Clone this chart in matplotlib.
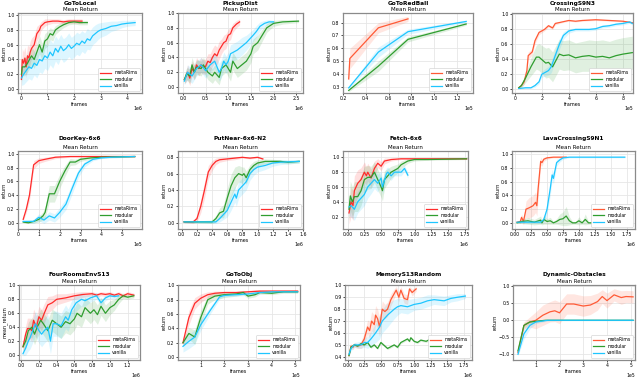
import matplotlib
matplotlib.use("Agg")
import numpy as np
import matplotlib.pyplot as plt
from matplotlib.ticker import MultipleLocator

# ---------------- data (x in units of the axis offset) ----------------
# GoToLocal (1e6)
p1_meta_x = [0.02, 0.05, 0.1, 0.15, 0.2, 0.25, 0.3, 0.35, 0.4, 0.5, 0.6, 0.7, 0.75, 0.9, 1.0, 1.2, 1.4, 1.6, 1.8, 2.0, 2.3]
p1_meta_y = [0.13, 0.4, 0.35, 0.42, 0.3, 0.45, 0.42, 0.5, 0.55, 0.6, 0.75, 0.8, 0.85, 0.9, 0.91, 0.92, 0.92, 0.91, 0.92, 0.92, 0.92]
p1_meta_s = [0.08, 0.15, 0.15, 0.15, 0.15, 0.15, 0.15, 0.15, 0.14, 0.13, 0.1, 0.08, 0.06, 0.05, 0.04, 0.03, 0.03, 0.03, 0.03, 0.03, 0.03]
p1_mod_x = [0.02, 0.05, 0.15, 0.25, 0.35, 0.4, 0.5, 0.6, 0.65, 0.7, 0.8, 0.9, 1.0, 1.1, 1.2, 1.3, 1.45, 1.6, 1.8, 2.0, 2.2, 2.5]
p1_mod_y = [0.2, 0.3, 0.3, 0.35, 0.42, 0.45, 0.4, 0.5, 0.55, 0.6, 0.5, 0.65, 0.68, 0.75, 0.73, 0.8, 0.84, 0.87, 0.9, 0.91, 0.9, 0.9]
p1_mod_s = [0.1, 0.12, 0.12, 0.12, 0.12, 0.12, 0.12, 0.12, 0.12, 0.12, 0.12, 0.1, 0.1, 0.08, 0.08, 0.06, 0.05, 0.04, 0.03, 0.03, 0.03, 0.03]
p1_van_x = [0.02, 0.1, 0.2, 0.3, 0.4, 0.5, 0.6, 0.7, 0.8, 0.9, 1.0, 1.1, 1.2, 1.3, 1.4, 1.5, 1.6, 1.7, 1.8, 1.9, 2.0, 2.1, 2.2, 2.3, 2.4, 2.5, 2.6, 2.7, 2.8, 2.9, 3.0, 3.2, 3.4, 3.6, 3.8, 4.0, 4.3]
p1_van_y = [0.15, 0.2, 0.25, 0.3, 0.28, 0.35, 0.32, 0.4, 0.38, 0.45, 0.42, 0.5, 0.45, 0.55, 0.5, 0.58, 0.52, 0.55, 0.6, 0.55, 0.58, 0.62, 0.6, 0.65, 0.62, 0.68, 0.66, 0.72, 0.75, 0.78, 0.8, 0.82, 0.85, 0.86, 0.88, 0.89, 0.9]
p1_van_s = [0.1, 0.14, 0.15, 0.16, 0.16, 0.16, 0.17, 0.17, 0.17, 0.17, 0.17, 0.17, 0.17, 0.17, 0.17, 0.16, 0.16, 0.16, 0.16, 0.15, 0.15, 0.15, 0.15, 0.14, 0.14, 0.14, 0.13, 0.12, 0.12, 0.11, 0.1, 0.09, 0.07, 0.06, 0.05, 0.04, 0.04]

# PickupDist (1e6)
p2_meta_x = [0.03, 0.07, 0.1, 0.15, 0.2, 0.25, 0.3, 0.35, 0.4, 0.45, 0.5, 0.55, 0.6, 0.65, 0.7, 0.75, 0.8, 0.85, 0.9, 0.95, 1.0, 1.05, 1.1, 1.18, 1.25]
p2_meta_y = [0.1, 0.15, 0.2, 0.12, 0.25, 0.2, 0.3, 0.25, 0.3, 0.27, 0.28, 0.35, 0.33, 0.4, 0.45, 0.42, 0.5, 0.55, 0.6, 0.62, 0.7, 0.72, 0.8, 0.85, 0.88]
p2_meta_s = [0.05, 0.08, 0.1, 0.1, 0.1, 0.1, 0.1, 0.1, 0.1, 0.1, 0.1, 0.1, 0.12, 0.12, 0.12, 0.12, 0.12, 0.1, 0.1, 0.1, 0.08, 0.08, 0.06, 0.05, 0.04]
p2_mod_x = [0.03, 0.08, 0.15, 0.2, 0.25, 0.3, 0.4, 0.45, 0.55, 0.65, 0.7, 0.8, 0.85, 0.95, 1.05, 1.1, 1.2, 1.3, 1.4, 1.5, 1.55, 1.65, 1.75, 1.85, 2.0, 2.2, 2.55]
p2_mod_y = [0.1, 0.18, 0.15, 0.3, 0.2, 0.27, 0.25, 0.3, 0.2, 0.15, 0.2, 0.13, 0.25, 0.3, 0.2, 0.35, 0.25, 0.3, 0.35, 0.45, 0.55, 0.6, 0.7, 0.8, 0.86, 0.88, 0.89]
p2_mod_s = [0.05, 0.08, 0.1, 0.1, 0.1, 0.1, 0.1, 0.1, 0.1, 0.1, 0.1, 0.1, 0.1, 0.1, 0.12, 0.12, 0.12, 0.12, 0.12, 0.12, 0.1, 0.1, 0.08, 0.06, 0.04, 0.03, 0.02]
p2_van_x = [0.03, 0.1, 0.2, 0.3, 0.4, 0.5, 0.6, 0.7, 0.8, 0.85, 0.9, 0.95, 1.0, 1.05, 1.2, 1.3, 1.4, 1.55, 1.62, 1.7, 1.8, 1.9, 2.0]
p2_van_y = [0.08, 0.2, 0.15, 0.25, 0.3, 0.22, 0.3, 0.35, 0.2, 0.25, 0.35, 0.3, 0.35, 0.45, 0.5, 0.55, 0.6, 0.7, 0.75, 0.82, 0.86, 0.88, 0.88]
p2_van_s = [0.05, 0.1, 0.1, 0.1, 0.1, 0.1, 0.1, 0.1, 0.12, 0.12, 0.12, 0.12, 0.12, 0.12, 0.12, 0.12, 0.1, 0.08, 0.08, 0.06, 0.04, 0.03, 0.02]

# GoToRedBall (1e5)
p3_meta_x = [0.25, 0.26, 0.51, 0.77]
p3_meta_y = [0.36, 0.52, 0.76, 0.83]
p3_meta_s = [0.02, 0.08, 0.04, 0.02]
p3_mod_x = [0.25, 0.51, 0.77, 1.28]
p3_mod_y = [0.27, 0.46, 0.67, 0.79]
p3_mod_s = [0.01, 0.04, 0.02, 0.01]
p3_van_x = [0.25, 0.51, 0.77, 1.28]
p3_van_y = [0.29, 0.57, 0.73, 0.81]
p3_van_s = [0.01, 0.04, 0.02, 0.01]

# CrossingS9N3 (1e5)
p4_meta_x = [0.3, 0.5, 0.7, 0.9, 1.0, 1.3, 1.5, 1.8, 2.2, 2.5, 2.8, 3.0, 3.5, 4.0, 4.5, 5.0, 6.0, 7.0, 8.0, 8.7]
p4_meta_y = [0.02, 0.05, 0.1, 0.25, 0.45, 0.5, 0.65, 0.76, 0.8, 0.85, 0.82, 0.88, 0.9, 0.92, 0.91, 0.92, 0.93, 0.92, 0.91, 0.89]
p4_meta_s = [0.01, 0.02, 0.03, 0.04, 0.05, 0.04, 0.04, 0.03, 0.02, 0.02, 0.02, 0.02, 0.01, 0.01, 0.01, 0.01, 0.01, 0.01, 0.01, 0.01]
p4_mod_x = [0.3, 0.5, 0.8, 1.2, 1.6, 1.8, 2.3, 2.5, 2.8, 3.3, 3.6, 4.0, 4.5, 5.0, 5.5, 6.0, 6.5, 7.0, 7.5, 8.0, 8.7]
p4_mod_y = [0.02, 0.05, 0.15, 0.3, 0.43, 0.43, 0.35, 0.36, 0.3, 0.47, 0.45, 0.46, 0.42, 0.44, 0.45, 0.43, 0.44, 0.42, 0.45, 0.47, 0.49]
p4_mod_s = [0.01, 0.03, 0.06, 0.12, 0.16, 0.18, 0.2, 0.2, 0.2, 0.2, 0.2, 0.2, 0.2, 0.2, 0.21, 0.22, 0.22, 0.22, 0.22, 0.22, 0.22]
p4_van_x = [0.3, 0.8, 1.2, 1.5, 1.8, 2.0, 2.5, 2.7, 3.0, 3.3, 3.6, 4.0, 4.5, 5.5, 6.0, 6.5, 7.0, 7.5, 8.0, 8.5, 8.7]
p4_van_y = [0.01, 0.02, 0.02, 0.05, 0.1, 0.2, 0.25, 0.3, 0.45, 0.6, 0.72, 0.78, 0.8, 0.8, 0.81, 0.84, 0.85, 0.87, 0.88, 0.9, 0.88]
p4_van_s = [0.01, 0.01, 0.01, 0.02, 0.03, 0.04, 0.06, 0.08, 0.08, 0.07, 0.05, 0.03, 0.02, 0.02, 0.02, 0.02, 0.02, 0.02, 0.02, 0.02, 0.02]

# DoorKey-6x6 (1e5)
p5_meta_x = [0.25, 0.4, 0.55, 0.75, 1.0, 1.3, 1.8, 2.5, 3.5, 4.5, 5.6]
p5_meta_y = [0.05, 0.2, 0.4, 0.84, 0.9, 0.92, 0.95, 0.96, 0.96, 0.96, 0.96]
p5_meta_s = [0.02, 0.05, 0.08, 0.06, 0.04, 0.03, 0.02, 0.01, 0.01, 0.01, 0.01]
p5_mod_x = [0.25, 0.5, 0.75, 1.0, 1.2, 1.3, 1.5, 1.75, 2.0, 2.25, 2.5, 2.75, 3.0, 3.5, 4.0, 5.6]
p5_mod_y = [0.01, 0.0, 0.02, 0.05, 0.1, 0.15, 0.42, 0.42, 0.6, 0.75, 0.88, 0.88, 0.92, 0.94, 0.95, 0.96]
p5_mod_s = [0.01, 0.01, 0.02, 0.04, 0.06, 0.08, 0.12, 0.12, 0.1, 0.08, 0.05, 0.04, 0.03, 0.02, 0.01, 0.01]
p5_van_x = [0.25, 0.75, 1.0, 1.25, 1.5, 1.75, 2.0, 2.3, 2.6, 2.9, 3.2, 3.6, 4.0, 4.5, 5.6]
p5_van_y = [0.02, 0.02, 0.08, 0.04, 0.1, 0.07, 0.15, 0.27, 0.5, 0.72, 0.85, 0.92, 0.94, 0.95, 0.96]
p5_van_s = [0.01, 0.03, 0.05, 0.05, 0.06, 0.06, 0.07, 0.08, 0.08, 0.06, 0.04, 0.02, 0.01, 0.01, 0.01]

# PutNear-6x6-N2 (1e6)
p6_meta_x = [0.03, 0.15, 0.2, 0.25, 0.3, 0.35, 0.4, 0.45, 0.5, 0.6, 0.7, 0.8, 0.9, 1.0, 1.07]
p6_meta_y = [0.01, 0.01, 0.05, 0.2, 0.4, 0.62, 0.7, 0.75, 0.77, 0.78, 0.79, 0.8, 0.79, 0.8, 0.78]
p6_meta_s = [0.01, 0.02, 0.04, 0.08, 0.1, 0.08, 0.06, 0.04, 0.03, 0.02, 0.02, 0.01, 0.01, 0.01, 0.01]
p6_mod_x = [0.03, 0.4, 0.45, 0.5, 0.55, 0.6, 0.65, 0.7, 0.75, 0.8, 0.82, 0.85, 0.9, 0.95, 1.0, 1.1, 1.3, 1.4, 1.55]
p6_mod_y = [0.01, 0.01, 0.05, 0.12, 0.14, 0.3, 0.45, 0.55, 0.6, 0.58, 0.6, 0.55, 0.65, 0.7, 0.73, 0.75, 0.75, 0.74, 0.75]
p6_mod_s = [0.01, 0.02, 0.04, 0.06, 0.08, 0.12, 0.14, 0.13, 0.1, 0.1, 0.08, 0.08, 0.06, 0.05, 0.04, 0.03, 0.02, 0.02, 0.02]
p6_van_x = [0.03, 0.45, 0.5, 0.55, 0.6, 0.65, 0.7, 0.72, 0.75, 0.8, 0.85, 0.9, 0.95, 1.0, 1.1, 1.2, 1.3, 1.55]
p6_van_y = [0.01, 0.01, 0.05, 0.1, 0.15, 0.25, 0.35, 0.3, 0.4, 0.45, 0.5, 0.6, 0.65, 0.68, 0.7, 0.73, 0.74, 0.75]
p6_van_s = [0.01, 0.02, 0.04, 0.06, 0.08, 0.1, 0.1, 0.1, 0.1, 0.1, 0.1, 0.08, 0.07, 0.06, 0.05, 0.04, 0.03, 0.02]

# Fetch-6x6 (1e6)
p7_meta_x = [0.02, 0.05, 0.08, 0.1, 0.15, 0.2, 0.25, 0.28, 0.3, 0.35, 0.4, 0.45, 0.5, 0.55, 0.65, 0.8, 1.0, 1.3, 1.78]
p7_meta_y = [0.25, 0.4, 0.35, 0.55, 0.65, 0.7, 0.8, 0.75, 0.8, 0.72, 0.85, 0.92, 0.88, 0.95, 0.97, 0.98, 0.98, 0.98, 0.98]
p7_meta_s = [0.15, 0.2, 0.2, 0.2, 0.18, 0.16, 0.14, 0.12, 0.12, 0.12, 0.1, 0.06, 0.06, 0.04, 0.02, 0.01, 0.01, 0.01, 0.01]
p7_mod_x = [0.02, 0.04, 0.07, 0.1, 0.15, 0.2, 0.25, 0.3, 0.35, 0.4, 0.45, 0.5, 0.52, 0.55, 0.6, 0.65, 0.75, 0.8, 0.9, 1.0, 1.2, 1.78]
p7_mod_y = [0.3, 0.48, 0.4, 0.47, 0.47, 0.55, 0.7, 0.73, 0.73, 0.8, 0.7, 0.6, 0.55, 0.7, 0.75, 0.8, 0.85, 0.9, 0.95, 0.97, 0.97, 0.98]
p7_mod_s = [0.15, 0.2, 0.2, 0.2, 0.2, 0.2, 0.18, 0.16, 0.15, 0.14, 0.14, 0.14, 0.14, 0.12, 0.1, 0.08, 0.06, 0.05, 0.03, 0.02, 0.01, 0.01]
p7_van_x = [0.02, 0.05, 0.1, 0.15, 0.2, 0.25, 0.3, 0.35, 0.4, 0.45, 0.5, 0.52, 0.58, 0.6, 0.65, 0.7, 0.8, 0.85, 0.9]
p7_van_y = [0.33, 0.35, 0.3, 0.4, 0.45, 0.5, 0.6, 0.65, 0.7, 0.65, 0.72, 0.6, 0.78, 0.8, 0.75, 0.8, 0.8, 0.85, 0.76]
p7_van_s = [0.12, 0.15, 0.15, 0.15, 0.15, 0.15, 0.15, 0.14, 0.12, 0.12, 0.1, 0.1, 0.08, 0.07, 0.06, 0.05, 0.05, 0.04, 0.04]

# LavaCrossingS9N1 (1e6)
p8_meta_x = [0.03, 0.08, 0.1, 0.13, 0.17, 0.22, 0.28, 0.32, 0.34, 0.36, 0.4, 0.42, 0.45, 0.5, 0.6, 0.8]
p8_meta_y = [0.01, 0.02, 0.08, 0.02, 0.2, 0.22, 0.25, 0.3, 0.25, 0.5, 0.9, 0.88, 0.93, 0.95, 0.96, 0.96]
p8_meta_s = [0.01, 0.03, 0.05, 0.05, 0.12, 0.15, 0.15, 0.15, 0.15, 0.15, 0.06, 0.05, 0.03, 0.02, 0.01, 0.01]
p8_mod_x = [0.03, 0.1, 0.2, 0.3, 0.4, 0.42, 0.45, 0.5, 0.55, 0.6, 0.65, 0.7, 0.75, 0.8, 0.85, 0.9, 0.95, 1.0, 1.05, 1.1, 1.15, 1.25, 1.32, 1.36, 1.4]
p8_mod_y = [0.0, 0.02, 0.03, 0.01, 0.04, 0.0, 0.05, 0.02, 0.03, 0.0, 0.02, 0.05, 0.06, 0.1, 0.03, 0.0, 0.0, 0.03, 0.0, 0.05, 0.0, 0.0, 0.08, 0.02, 0.0]
p8_mod_s = [0.01, 0.03, 0.05, 0.04, 0.06, 0.03, 0.07, 0.04, 0.05, 0.02, 0.04, 0.08, 0.1, 0.14, 0.06, 0.02, 0.02, 0.06, 0.02, 0.08, 0.02, 0.02, 0.12, 0.05, 0.02]
p8_van_x = [0.03, 0.4, 0.45, 0.5, 0.55, 0.58, 0.6, 0.65, 0.7, 0.75, 0.85, 1.2, 1.72]
p8_van_y = [0.01, 0.01, 0.05, 0.2, 0.5, 0.7, 0.65, 0.88, 0.92, 0.95, 0.96, 0.96, 0.96]
p8_van_s = [0.01, 0.02, 0.04, 0.08, 0.1, 0.08, 0.08, 0.05, 0.03, 0.02, 0.01, 0.01, 0.01]

# FourRoomsEnvS13 (1e6)
p9_meta_x = [0.02, 0.05, 0.07, 0.1, 0.12, 0.14, 0.17, 0.2, 0.23, 0.26, 0.3, 0.35, 0.4, 0.5, 0.6, 0.7, 0.8, 0.85, 0.9, 0.95, 1.0, 1.05, 1.1, 1.15, 1.2, 1.27]
p9_meta_y = [0.12, 0.3, 0.38, 0.38, 0.35, 0.5, 0.4, 0.55, 0.5, 0.6, 0.72, 0.75, 0.8, 0.82, 0.85, 0.87, 0.88, 0.86, 0.88, 0.87, 0.88, 0.86, 0.88, 0.85, 0.88, 0.86]
p9_meta_s = [0.06, 0.12, 0.15, 0.15, 0.16, 0.16, 0.16, 0.15, 0.15, 0.14, 0.12, 0.1, 0.08, 0.06, 0.05, 0.04, 0.03, 0.03, 0.03, 0.03, 0.03, 0.03, 0.03, 0.03, 0.03, 0.03]
p9_mod_x = [0.02, 0.05, 0.08, 0.12, 0.15, 0.18, 0.22, 0.25, 0.3, 0.35, 0.4, 0.45, 0.5, 0.55, 0.6, 0.63, 0.68, 0.72, 0.78, 0.82, 0.86, 0.9, 0.95, 1.0, 1.05, 1.1, 1.15, 1.2, 1.27]
p9_mod_y = [0.12, 0.2, 0.35, 0.4, 0.3, 0.4, 0.5, 0.45, 0.35, 0.5, 0.45, 0.4, 0.48, 0.45, 0.52, 0.6, 0.55, 0.68, 0.6, 0.65, 0.58, 0.7, 0.6, 0.68, 0.72, 0.8, 0.85, 0.83, 0.85]
p9_mod_s = [0.06, 0.1, 0.12, 0.14, 0.15, 0.15, 0.16, 0.16, 0.16, 0.16, 0.16, 0.16, 0.16, 0.16, 0.16, 0.16, 0.15, 0.15, 0.15, 0.14, 0.14, 0.13, 0.12, 0.1, 0.08, 0.06, 0.04, 0.03, 0.03]
p9_van_x = [0.02, 0.05, 0.08, 0.1, 0.13, 0.16, 0.2, 0.23, 0.26, 0.3, 0.33, 0.36, 0.4, 0.45, 0.5, 0.53, 0.57, 0.62, 0.68, 0.72, 0.78, 0.85, 0.9, 0.95, 1.0, 1.05, 1.1]
p9_van_y = [0.02, 0.1, 0.2, 0.25, 0.35, 0.45, 0.35, 0.3, 0.35, 0.4, 0.2, 0.45, 0.45, 0.42, 0.55, 0.5, 0.65, 0.75, 0.8, 0.78, 0.82, 0.85, 0.75, 0.82, 0.85, 0.84, 0.85]
p9_van_s = [0.03, 0.1, 0.14, 0.16, 0.17, 0.18, 0.18, 0.18, 0.18, 0.18, 0.18, 0.18, 0.18, 0.18, 0.17, 0.16, 0.14, 0.12, 0.1, 0.08, 0.06, 0.05, 0.05, 0.04, 0.04, 0.03, 0.03]

# GoToObj (1e5)
p10_meta_x = [0.25, 0.5, 0.75, 1.0, 1.3, 1.6, 2.0, 2.5, 3.0, 3.5, 4.0, 4.5, 5.1]
p10_meta_y = [0.2, 0.55, 0.75, 0.82, 0.87, 0.89, 0.9, 0.9, 0.91, 0.92, 0.92, 0.92, 0.92]
p10_meta_s = [0.05, 0.1, 0.08, 0.06, 0.04, 0.03, 0.02, 0.02, 0.02, 0.02, 0.02, 0.02, 0.02]
p10_mod_x = [0.25, 0.5, 0.75, 1.0, 1.3, 1.6, 2.0, 2.5, 2.8, 3.0, 3.3, 3.5, 4.0, 4.5, 5.1]
p10_mod_y = [0.2, 0.33, 0.28, 0.55, 0.8, 0.85, 0.87, 0.88, 0.9, 0.85, 0.87, 0.9, 0.89, 0.91, 0.91]
p10_mod_s = [0.05, 0.08, 0.1, 0.1, 0.06, 0.05, 0.04, 0.03, 0.03, 0.03, 0.03, 0.02, 0.02, 0.02, 0.02]
p10_van_x = [0.25, 0.5, 0.75, 1.0, 1.4, 1.8, 2.0, 2.5, 3.0, 3.5, 4.0, 5.1]
p10_van_y = [0.15, 0.22, 0.28, 0.45, 0.65, 0.84, 0.86, 0.87, 0.88, 0.9, 0.91, 0.91]
p10_van_s = [0.08, 0.1, 0.1, 0.08, 0.05, 0.03, 0.02, 0.02, 0.02, 0.02, 0.01, 0.01]

# MemoryS13Random (1e6)
p11_meta_x = [0.02, 0.05, 0.08, 0.1, 0.15, 0.2, 0.22, 0.25, 0.3, 0.33, 0.36, 0.4, 0.42, 0.45, 0.48, 0.52, 0.56, 0.6, 0.65, 0.7, 0.73, 0.77, 0.8, 0.85, 0.9, 0.93, 0.97, 1.03]
p11_meta_y = [0.41, 0.49, 0.48, 0.5, 0.49, 0.5, 0.52, 0.55, 0.65, 0.62, 0.7, 0.67, 0.75, 0.72, 0.65, 0.8, 0.78, 0.8, 0.88, 0.93, 0.96, 0.9, 0.96, 0.89, 0.88, 0.97, 0.94, 0.97]
p11_meta_s = [0.01, 0.02, 0.02, 0.02, 0.02, 0.03, 0.04, 0.05, 0.06, 0.07, 0.08, 0.08, 0.08, 0.08, 0.08, 0.07, 0.06, 0.06, 0.05, 0.04, 0.03, 0.04, 0.03, 0.04, 0.04, 0.02, 0.03, 0.02]
p11_mod_x = [0.02, 0.05, 0.1, 0.15, 0.2, 0.25, 0.3, 0.35, 0.4, 0.45, 0.5, 0.6, 0.7, 0.75, 0.8, 0.9, 0.93, 0.95, 1.0, 1.05, 1.1, 1.18, 1.25, 1.32, 1.4, 1.48, 1.55, 1.62, 1.7, 1.77]
p11_mod_y = [0.41, 0.48, 0.5, 0.49, 0.51, 0.5, 0.52, 0.48, 0.5, 0.47, 0.52, 0.47, 0.5, 0.48, 0.52, 0.55, 0.53, 0.56, 0.53, 0.52, 0.54, 0.53, 0.55, 0.53, 0.54, 0.53, 0.55, 0.52, 0.54, 0.55]
p11_mod_s = [0.01, 0.01, 0.01, 0.01, 0.01, 0.01, 0.01, 0.01, 0.01, 0.01, 0.01, 0.01, 0.01, 0.01, 0.01, 0.01, 0.01, 0.01, 0.01, 0.01, 0.01, 0.01, 0.01, 0.01, 0.01, 0.01, 0.01, 0.01, 0.01, 0.01]
p11_van_x = [0.02, 0.05, 0.1, 0.2, 0.25, 0.3, 0.35, 0.42, 0.48, 0.52, 0.6, 0.7, 0.75, 0.8, 0.9, 1.0, 1.1, 1.2, 1.3, 1.45, 1.55, 1.65, 1.77]
p11_van_y = [0.42, 0.47, 0.5, 0.5, 0.52, 0.52, 0.55, 0.6, 0.65, 0.7, 0.75, 0.8, 0.82, 0.83, 0.82, 0.84, 0.85, 0.87, 0.88, 0.87, 0.89, 0.9, 0.91]
p11_van_s = [0.01, 0.02, 0.02, 0.03, 0.04, 0.05, 0.06, 0.08, 0.1, 0.1, 0.1, 0.08, 0.07, 0.06, 0.06, 0.05, 0.05, 0.05, 0.04, 0.04, 0.03, 0.03, 0.02]

# Dynamic-Obstacles (1e5)
p12_meta_x = [0.25, 0.5, 0.75, 1.0, 1.3, 1.6, 1.8, 2.0, 2.3, 2.6, 3.0, 3.3, 3.6, 3.8, 4.0, 4.3, 4.6, 4.8, 5.1]
p12_meta_y = [-0.95, -0.15, -0.05, 0.0, 0.15, 0.25, 0.28, 0.22, 0.48, 0.48, 0.42, 0.45, 0.55, 0.7, 0.58, 0.75, 0.67, 0.7, 0.69]
p12_meta_s = [0.05, 0.1, 0.15, 0.25, 0.3, 0.3, 0.32, 0.32, 0.3, 0.3, 0.3, 0.28, 0.25, 0.2, 0.22, 0.18, 0.2, 0.18, 0.18]
p12_mod_x = [0.25, 0.5, 0.75, 1.0, 1.4, 2.0, 3.0, 4.0, 5.1]
p12_mod_y = [-0.9, -0.15, -0.05, -0.03, 0.0, 0.0, 0.0, 0.0, 0.0]
p12_mod_s = [0.05, 0.08, 0.05, 0.03, 0.01, 0.01, 0.01, 0.01, 0.01]
p12_van_x = [0.25, 0.5, 0.75, 1.0, 1.5, 2.0, 3.0, 4.0, 5.1]
p12_van_y = [-1.0, -0.4, -0.15, -0.05, 0.0, 0.0, 0.0, 0.0, 0.0]
p12_van_s = [0.05, 0.15, 0.1, 0.05, 0.02, 0.01, 0.01, 0.01, 0.01]

RED = "#ff2b2b"
ORANGE = "#ff5a36"
GREEN = "#2f9e2f"
BLUE = "#1ec6ff"

panels = [
    # name, scale, xlim, ylim, x step, y step, ylabel, meta color, (l, r, t, b) px, series
    ("GoToLocal", 1e6, (-0.11, 4.56), (-0.054, 1.03), 1, 0.2, "return", RED, (18, 142, 13, 93),
     (p1_meta_x, p1_meta_y, p1_meta_s), (p1_mod_x, p1_mod_y, p1_mod_s), (p1_van_x, p1_van_y, p1_van_s)),
    ("PickupDist", 1e6, (-0.11, 2.65), (-0.08, 1.0), 0.5, 0.2, "return", RED, (178, 303, 13, 93),
     (p2_meta_x, p2_meta_y, p2_meta_s), (p2_mod_x, p2_mod_y, p2_mod_s), (p2_van_x, p2_van_y, p2_van_s)),
    ("GoToRedBall", 1e5, (0.2, 1.34), (0.25, 0.876), 0.2, 0.1, "return", ORANGE, (343, 473, 13, 93),
     (p3_meta_x, p3_meta_y, p3_meta_s), (p3_mod_x, p3_mod_y, p3_mod_s), (p3_van_x, p3_van_y, p3_van_s)),
    ("CrossingS9N3", 1e5, (-0.2, 8.75), (-0.05, 1.02), 2, 0.2, "return", ORANGE, (512, 633, 13, 93),
     (p4_meta_x, p4_meta_y, p4_meta_s), (p4_mod_x, p4_mod_y, p4_mod_s), (p4_van_x, p4_van_y, p4_van_s)),
    ("DoorKey-6x6", 1e5, (0.0, 5.95), (-0.09, 1.04), 1, 0.2, "return", RED, (18, 142, 151, 229),
     (p5_meta_x, p5_meta_y, p5_meta_s), (p5_mod_x, p5_mod_y, p5_mod_s), (p5_van_x, p5_van_y, p5_van_s)),
    ("PutNear-6x6-N2", 1e6, (-0.05, 1.6), (-0.077, 0.877), 0.2, 0.2, "return", RED, (178, 303, 151, 229),
     (p6_meta_x, p6_meta_y, p6_meta_s), (p6_mod_x, p6_mod_y, p6_mod_s), (p6_van_x, p6_van_y, p6_van_s)),
    ("Fetch-6x6", 1e6, (-0.07, 1.8), (0.034, 1.085), 0.25, 0.2, "return", RED, (343, 468, 151, 229),
     (p7_meta_x, p7_meta_y, p7_meta_s), (p7_mod_x, p7_mod_y, p7_mod_s), (p7_van_x, p7_van_y, p7_van_s)),
    ("LavaCrossingS9N1", 1e6, (-0.05, 1.88), (-0.09, 1.05), 0.25, 0.2, "return", ORANGE, (512, 635, 151, 229),
     (p8_meta_x, p8_meta_y, p8_meta_s), (p8_mod_x, p8_mod_y, p8_mod_s), (p8_van_x, p8_van_y, p8_van_s)),
    ("FourRoomsEnvS13", 1e6, (-0.025, 1.34), (-0.07, 1.005), 0.2, 0.2, "mean_return", RED, (19, 140, 285, 360),
     (p9_meta_x, p9_meta_y, p9_meta_s), (p9_mod_x, p9_mod_y, p9_mod_s), (p9_van_x, p9_van_y, p9_van_s)),
    ("GoToObj", 1e5, (0.04, 5.2), (-0.04, 1.005), 1, 0.2, "return", RED, (178, 300, 285, 360),
     (p10_meta_x, p10_meta_y, p10_meta_s), (p10_mod_x, p10_mod_y, p10_mod_s), (p10_van_x, p10_van_y, p10_van_s)),
    ("MemoryS13Random", 1e6, (-0.04, 1.87), (0.373, 1.003), 0.25, 0.1, "return", ORANGE, (345, 472, 285, 360),
     (p11_meta_x, p11_meta_y, p11_meta_s), (p11_mod_x, p11_mod_y, p11_mod_s), (p11_van_x, p11_van_y, p11_van_s)),
    ("Dynamic-Obstacles", 1e5, (0.04, 5.18), (-1.17, 1.04), 1, 0.5, "return", ORANGE, (513, 635, 285, 360),
     (p12_meta_x, p12_meta_y, p12_meta_s), (p12_mod_x, p12_mod_y, p12_mod_s), (p12_van_x, p12_van_y, p12_van_s)),
]

W, H = 640, 379
fig = plt.figure(figsize=(6.4, 3.79), dpi=100)

for (name, scale, xlim, ylim, xstep, ystep, ylabel, mcol, box, meta, mod, van) in panels:
    l, r, t, b = box
    ax = fig.add_axes([l / W, 1 - b / H, (r - l) / W, (b - t) / H])
    ax.grid(True, color="#e6e6e6", linewidth=0.6)
    ax.set_axisbelow(True)
    for (x, y, s), col, lab in [(meta, mcol, "metaRims"), (mod, GREEN, "modular"), (van, BLUE, "vanilla")]:
        x = np.array(x) * scale
        y = np.array(y)
        s = np.array(s)
        ax.fill_between(x, y - s, y + s, color=col, alpha=0.15, linewidth=0)
        ax.plot(x, y, color=col, linewidth=0.9, label=lab)
    ax.set_xlim(xlim[0] * scale, xlim[1] * scale)
    ax.set_ylim(*ylim)
    ax.xaxis.set_major_locator(MultipleLocator(xstep * scale))
    ax.yaxis.set_major_locator(MultipleLocator(ystep))
    ax.ticklabel_format(style="sci", axis="x", scilimits=(0, 0))
    ax.xaxis.get_offset_text().set_fontsize(3.3)
    ax.tick_params(labelsize=3.3, length=1.5, width=0.5, pad=1.0)
    for sp in ax.spines.values():
        sp.set_color("#8a8a8a")
        sp.set_linewidth(0.9)
    ax.set_xlabel("frames", fontsize=3.5, labelpad=0.6)
    ax.set_ylabel(ylabel, fontsize=3.5, labelpad=0.8)
    ax.set_title("Mean Return", fontsize=4, pad=1.5)
    leg = ax.legend(loc="lower right", fontsize=3.3, handlelength=2.2, borderpad=0.5,
                    labelspacing=0.35, framealpha=1, edgecolor="#cccccc", fancybox=True)
    leg.get_frame().set_linewidth(0.4)
    if t < 50:
        ty = 3.5
    elif t < 200:
        ty = t - 12.5
    else:
        ty = t - 10.5
    fig.text((l + r) / 2 / W, 1 - ty / H, name, ha="center", va="center",
             fontsize=4.2, fontweight="bold")

fig.savefig("out.png", dpi=100)
